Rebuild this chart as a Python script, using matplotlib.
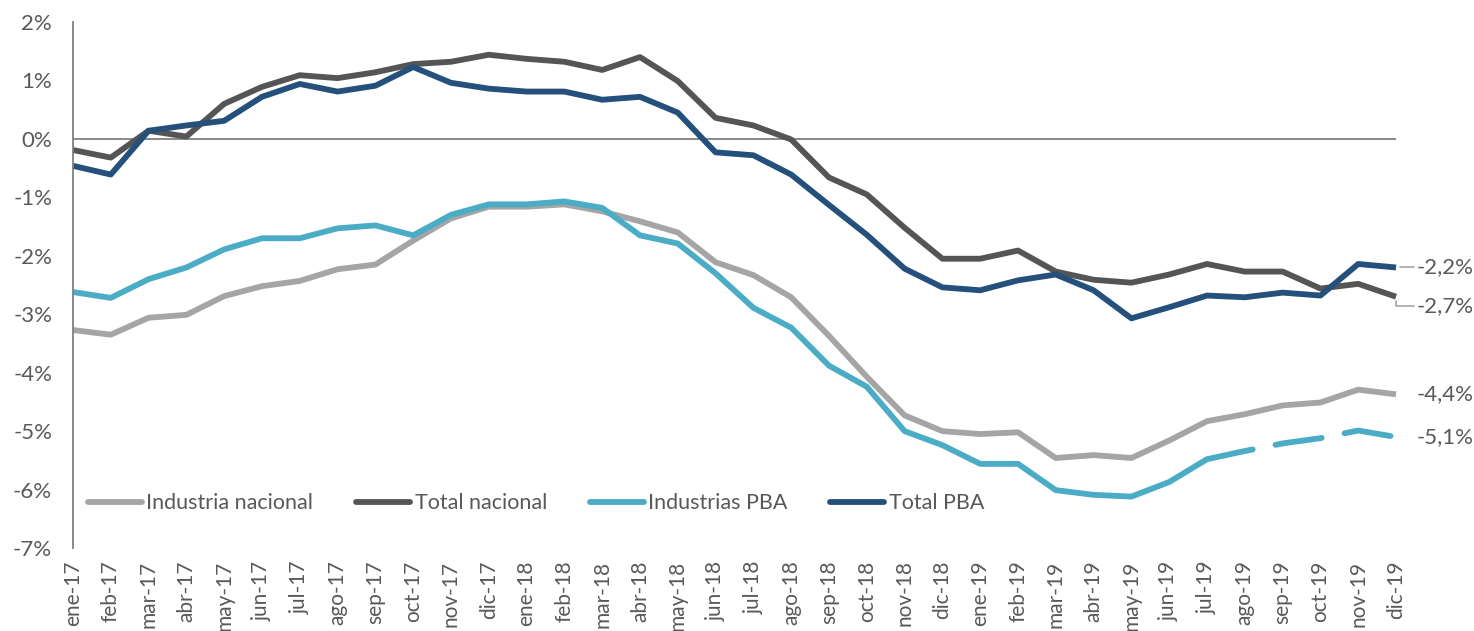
import numpy as np
import matplotlib
matplotlib.use('Agg')
import matplotlib.pyplot as plt

plt.rcParams['font.family'] = ['Lato', 'DejaVu Sans']

meses = ['ene-17', 'feb-17', 'mar-17', 'abr-17', 'may-17', 'jun-17', 'jul-17', 'ago-17',
         'sep-17', 'oct-17', 'nov-17', 'dic-17',
         'ene-18', 'feb-18', 'mar-18', 'abr-18', 'may-18', 'jun-18', 'jul-18', 'ago-18',
         'sep-18', 'oct-18', 'nov-18', 'dic-18',
         'ene-19', 'feb-19', 'mar-19', 'abr-19', 'may-19', 'jun-19', 'jul-19', 'ago-19',
         'sep-19', 'oct-19', 'nov-19', 'dic-19']

industria_nacional = [-3.27, -3.35, -3.06, -3.01, -2.69, -2.52, -2.43, -2.23, -2.15, -1.74, -1.36, -1.16,
                      -1.16, -1.12, -1.24, -1.41, -1.60, -2.11, -2.33, -2.71, -3.37, -4.07, -4.73, -5.00,
                      -5.05, -5.02, -5.46, -5.41, -5.46, -5.16, -4.83, -4.71, -4.56, -4.51, -4.29, -4.37]
total_nacional = [-0.19, -0.32, 0.14, 0.04, 0.60, 0.89, 1.09, 1.04, 1.14, 1.28, 1.32, 1.44,
                  1.37, 1.32, 1.18, 1.40, 0.99, 0.36, 0.23, -0.01, -0.66, -0.95, -1.52, -2.05,
                  -2.05, -1.91, -2.27, -2.41, -2.46, -2.32, -2.14, -2.27, -2.27, -2.56, -2.48, -2.70]
industrias_pba = [-2.62, -2.72, -2.40, -2.20, -1.89, -1.70, -1.70, -1.53, -1.48, -1.65, -1.30, -1.12,
                  -1.12, -1.07, -1.18, -1.65, -1.79, -2.30, -2.89, -3.23, -3.88, -4.24, -5.00, -5.24,
                  -5.56, -5.56, -6.01, -6.09, -6.12, -5.87, -5.48, -5.34, -5.21, -5.12, -4.99, -5.10]
total_pba = [-0.46, -0.61, 0.14, 0.23, 0.31, 0.72, 0.94, 0.81, 0.91, 1.23, 0.96, 0.86,
             0.81, 0.81, 0.67, 0.72, 0.45, -0.23, -0.28, -0.61, -1.13, -1.64, -2.22, -2.54,
             -2.59, -2.42, -2.32, -2.59, -3.07, -2.88, -2.68, -2.71, -2.63, -2.68, -2.14, -2.20]

etiquetas_fin = ['-2,2%', '-2,7%', '-4,4%', '-5,1%']

c_ind_nac = '#a5a5a5'
c_tot_nac = '#555555'
c_ind_pba = '#4bacc6'
c_tot_pba = '#26507c'
c_text = '#595959'

x = np.arange(len(meses))
corte = 30  # desde jul-19 la serie Industrias PBA va punteada

fig = plt.figure(figsize=(14.74, 6.31), dpi=100)
ax = fig.add_axes([0.0495, 0.1315, 0.8976, 0.8336])

lw = 4.2
kw = dict(linewidth=lw, solid_joinstyle='round', solid_capstyle='butt', clip_on=False)
ax.plot(x, industria_nacional, color=c_ind_nac, label='Industria nacional', **kw)
ax.plot(x, total_nacional, color=c_tot_nac, label='Total nacional', **kw)
ax.plot(x[:corte + 1], industrias_pba[:corte + 1], color=c_ind_pba, label='Industrias PBA', **kw)
ax.plot(x[corte:], industrias_pba[corte:], color=c_ind_pba, linewidth=lw,
        dashes=(8, 4), dash_capstyle='round', clip_on=False)
ax.plot(x, total_pba, color=c_tot_pba, label='Total PBA', **kw)

ax.axhline(0, color='#808080', linewidth=1.3, zorder=0)

ax.set_xlim(0, len(meses) - 1)
ax.set_ylim(-7, 2)
ax.set_yticks(range(-7, 3))
ax.set_yticklabels([f'{v}%' for v in range(-7, 3)])
ax.set_xticks(x)
ax.set_xticklabels(meses, rotation=90)

for s in ['top', 'right', 'bottom']:
    ax.spines[s].set_visible(False)
ax.spines['left'].set_color('#808080')
ax.spines['left'].set_linewidth(1.3)
ax.tick_params(axis='y', length=0, pad=15, labelsize=16, labelcolor=c_text)
ax.tick_params(axis='x', length=0, pad=9, labelsize=15, labelcolor=c_text)

# etiquetas del ultimo dato
ult = len(meses) - 1
ax.annotate(etiquetas_fin[0], xy=(ult, total_pba[-1]), xytext=(15, 0), textcoords='offset points',
            va='center', ha='left', fontsize=16, color=c_text,
            arrowprops=dict(arrowstyle='-', color='#a5a5a5', lw=1.2, shrinkA=0, shrinkB=3,
                            connectionstyle='angle,angleA=0,angleB=90,rad=0'))
ax.annotate(etiquetas_fin[1], xy=(ult, total_nacional[-1]), xytext=(15, -7), textcoords='offset points',
            va='center', ha='left', fontsize=16, color=c_text,
            arrowprops=dict(arrowstyle='-', color='#a5a5a5', lw=1.2, shrinkA=0, shrinkB=3,
                            connectionstyle='angle,angleA=0,angleB=90,rad=0'))
ax.annotate(etiquetas_fin[2], xy=(ult, industria_nacional[-1]), xytext=(15, 0), textcoords='offset points',
            va='center', ha='left', fontsize=16, color=c_text)
ax.annotate(etiquetas_fin[3], xy=(ult, industrias_pba[-1]), xytext=(15, 0), textcoords='offset points',
            va='center', ha='left', fontsize=16, color=c_text)

leg = ax.legend(loc='center left', bbox_to_anchor=(-0.003, 0.085), ncol=4, frameon=False,
                fontsize=15.5, handlelength=2.5, handletextpad=0.2, columnspacing=2.0)
for t in leg.get_texts():
    t.set_color(c_text)
for h in leg.get_lines():
    h.set_linewidth(lw)
    h.set_solid_capstyle('round')

fig.savefig('out.png', dpi=100)
